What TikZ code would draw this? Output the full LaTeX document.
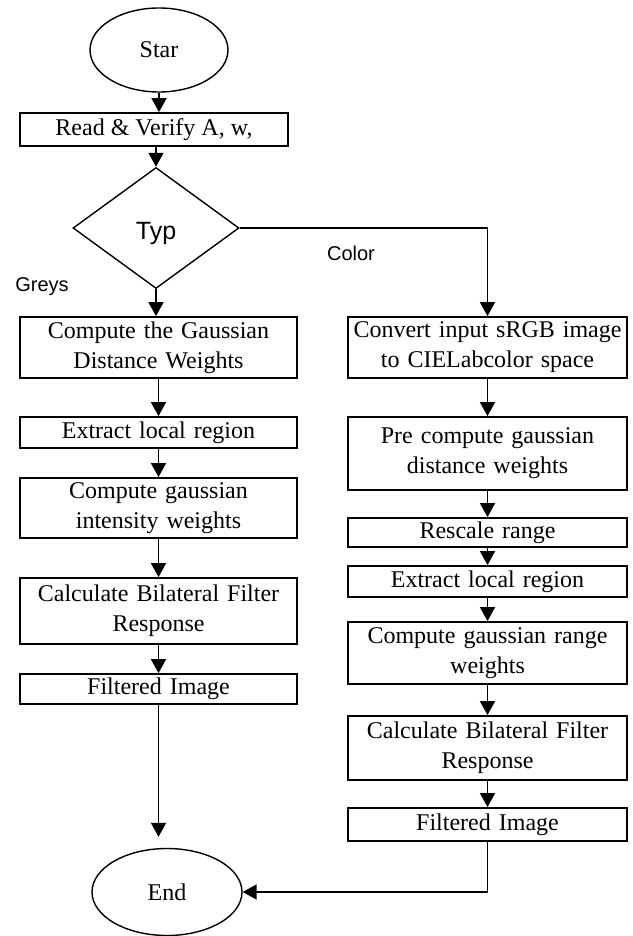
\documentclass[tikz,border=0pt]{standalone}
\usepackage{fontspec}
\setmainfont{Liberation Serif}
\setsansfont{Liberation Sans}
\usetikzlibrary{arrows.meta,positioning,shapes.geometric}
\tikzset{
  box/.style={draw,rectangle,align=center,inner sep=2pt,
    font=\fontsize{24}{30}\selectfont,line width=1.8pt},
  terminal/.style={draw,ellipse,inner sep=0pt,
    font=\fontsize{24}{28}\selectfont,line width=1.4pt},
  arrow/.style={-{Triangle[length=14pt,width=15pt]},line width=1.8pt}
}

\begin{document}
\begin{tikzpicture}[x=1pt,y=-1pt,
  gstep/.style={box,minimum width=277pt,text width=271pt},
  cstep/.style={box,minimum width=279pt,text width=273pt},
  decision/.style={draw,diamond,inner sep=0pt,minimum width=166pt,
    minimum height=121pt,line width=1.4pt,text height=28pt,text depth=5pt,
    font=\sffamily\fontsize{25}{28}\selectfont},
  branchlabel/.style={font=\sffamily\fontsize{20}{22}\selectfont,inner sep=0pt}
]
  \useasboundingbox (0,0) rectangle (632,936);

  \node[terminal,minimum width=138pt,minimum height=84pt] (start) at (159,50) {Star};
  \node[box,minimum width=268pt,minimum height=33pt] (read) at (154,129.5)
    {Read \& Verify A, w,};
  \node[decision] (typ) at (156,228) {Typ};
  \node[branchlabel] (greys) at (42,287) {Greys};
  \node[branchlabel] (color) at (351,253) {Color};

  % grey branch
  \node[gstep,minimum height=61pt] (gdist) at (158.5,347.5)
    {Compute the Gaussian\\Distance Weights};
  \node[gstep,minimum height=31pt] (gext) at (158.5,432.5) {Extract local region};
  \node[gstep,minimum height=60pt] (gint) at (158.5,508)
    {Compute gaussian\\intensity weights};
  \node[gstep,minimum height=66pt] (gcalc) at (158.5,611)
    {Calculate Bilateral Filter\\Response};
  \node[gstep,minimum height=30pt] (gfilt) at (158.5,689) {Filtered Image};

  % color branch
  \node[cstep,minimum height=61pt] (cconv) at (487.5,347.5)
    {Convert input sRGB image\\to CIELabcolor space};
  \node[cstep,minimum height=73pt] (cpre) at (487.5,453.5)
    {Pre compute gaussian\\distance weights};
  \node[cstep,minimum height=29pt] (cresc) at (487.5,532.5) {Rescale range};
  \node[cstep,minimum height=31pt] (cext) at (487.5,581.5) {Extract local region};
  \node[cstep,minimum height=62pt] (crange) at (487.5,653)
    {Compute gaussian range\\weights};
  \node[cstep,minimum height=64pt] (ccalc) at (487.5,748)
    {Calculate Bilateral Filter\\Response};
  \node[cstep,minimum height=33pt] (cfilt) at (487.5,824.5) {Filtered Image};

  \node[terminal,minimum width=150pt,minimum height=87pt] (gend) at (167,892) {End};

  \draw[arrow] (start.south) -- (start.south |- read.north);
  \draw[arrow] (typ.north |- read.south) -- (typ.north);
  \draw[arrow] (typ.south) -- (typ.south |- gdist.north);
  \draw[arrow] (typ.east) -| (cconv.north);

  \draw[arrow] (gdist) -- (gext);
  \draw[arrow] (gext) -- (gint);
  \draw[arrow] (gint) -- (gcalc);
  \draw[arrow] (gcalc) -- (gfilt);
  \draw[arrow] (gfilt.south) -- ([yshift=11pt]gfilt.south |- gend.north);

  \draw[arrow] (cconv) -- (cpre);
  \draw[arrow] (cpre) -- (cresc);
  \draw[arrow] (cresc) -- (cext);
  \draw[arrow] (cext) -- (crange);
  \draw[arrow] (crange) -- (ccalc);
  \draw[arrow] (ccalc) -- (cfilt);
  \draw[arrow] (cfilt.south) |- (gend.east);
\end{tikzpicture}
\end{document}
